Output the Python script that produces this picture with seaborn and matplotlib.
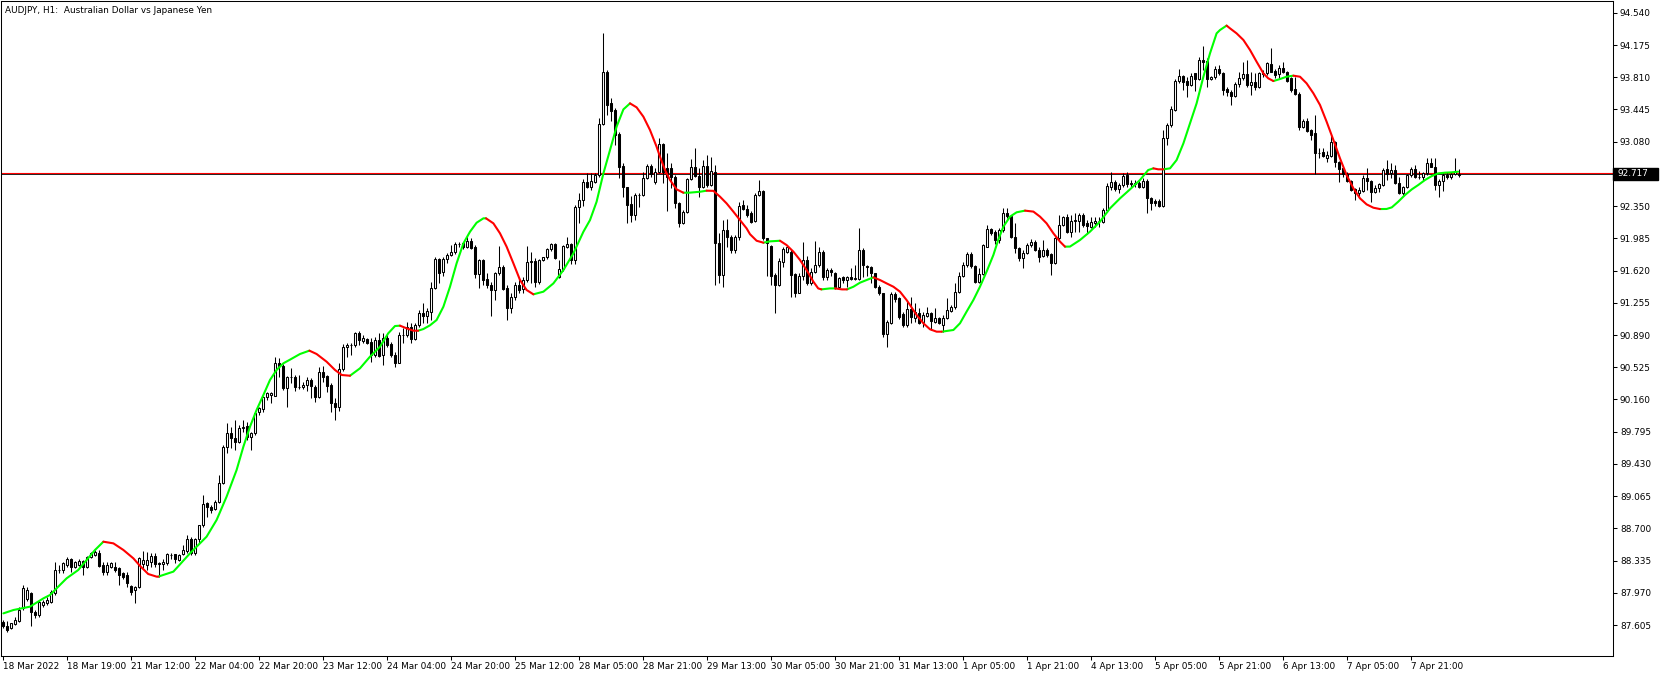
import numpy as np
import pandas as pd
import seaborn as sns
import matplotlib
matplotlib.use("Agg")
import matplotlib.pyplot as plt
from matplotlib import transforms
from matplotlib.patches import Rectangle

title = "AUDJPY, H1:  Australian Dollar vs Japanese Yen"
last_price = 92.717

# hourly candles, bar 0 = 18 Mar 2022
opens = [
    87.643, 87.590, 87.567, 87.616, 87.654, 87.800, 87.900, 87.964, 87.756, 87.718,
    87.832, 87.850, 87.869, 87.964, 88.228, 88.228, 88.285, 88.349, 88.266, 88.285,
    88.334, 88.266, 88.372, 88.400, 88.425, 88.285, 88.209, 88.266, 88.266, 88.247,
    88.190, 88.171, 88.047, 88.001, 88.032, 88.300, 88.285, 88.323, 88.387, 88.312,
    88.297, 88.304, 88.400, 88.406, 88.342, 88.406, 88.448, 88.576, 88.417, 88.576,
    88.738, 88.984, 88.946, 88.916, 89.003, 89.218, 89.626, 89.777, 89.720, 89.682,
    89.833, 89.860, 89.739, 89.777, 90.022, 90.049, 90.184, 90.211, 90.200, 90.570,
    90.539, 90.286, 90.411, 90.418, 90.297, 90.297, 90.324, 90.380, 90.305, 90.184,
    90.467, 90.426, 90.324, 90.116, 90.071, 90.501, 90.750, 90.777, 90.777, 90.917,
    90.822, 90.841, 90.815, 90.664, 90.834, 90.664, 90.852, 90.788, 90.664, 90.577,
    90.890, 90.890, 90.985, 90.841, 91.004, 91.136, 91.109, 91.154, 91.419, 91.747,
    91.607, 91.747, 91.796, 91.826, 91.921, 91.928, 91.891, 91.959, 91.891, 91.577,
    91.740, 91.521, 91.456, 91.400, 91.588, 91.656, 91.419, 91.192, 91.317, 91.456,
    91.407, 91.513, 91.721, 91.728, 91.494, 91.740, 91.770, 91.864, 91.921, 91.551,
    91.634, 91.891, 91.921, 91.740, 92.336, 92.419, 92.627, 92.570, 92.627, 92.702,
    93.280, 93.873, 93.514, 93.439, 93.167, 92.804, 92.562, 92.374, 92.249, 92.476,
    92.476, 92.665, 92.804, 92.620, 92.740, 93.053, 92.778, 92.778, 92.676, 92.389,
    92.162, 92.287, 92.653, 92.797, 92.691, 92.570, 92.800, 92.590, 92.740, 91.928,
    91.569, 92.079, 92.004, 91.853, 91.996, 92.362, 92.313, 92.268, 92.180, 92.476,
    92.525, 91.985, 91.898, 91.569, 91.456, 91.721, 91.834, 91.834, 91.581, 91.369,
    91.558, 91.740, 91.480, 91.607, 91.683, 91.834, 91.551, 91.626, 91.596, 91.430,
    91.543, 91.513, 91.543, 91.520, 91.520, 91.853, 91.672, 91.664, 91.588, 91.438,
    91.362, 90.901, 91.030, 91.354, 91.305, 91.128, 91.003, 91.180, 91.079, 91.136,
    91.042, 91.106, 91.136, 91.042, 91.079, 91.004, 91.079, 91.166, 91.204, 91.381,
    91.559, 91.683, 91.808, 91.672, 91.495, 91.581, 91.891, 92.087, 92.061, 91.967,
    92.080, 92.269, 92.238, 92.004, 91.872, 91.759, 91.816, 91.910, 91.948, 91.853,
    91.785, 91.853, 91.808, 91.710, 91.986, 92.137, 92.223, 92.061, 92.185, 92.185,
    92.249, 92.155, 92.117, 92.162, 92.185, 92.174, 92.306, 92.570, 92.627, 92.540,
    92.589, 92.702, 92.601, 92.608, 92.608, 92.570, 92.638, 92.438, 92.412, 92.412,
    92.351, 93.118, 93.269, 93.439, 93.771, 93.824, 93.771, 93.722, 93.854, 93.786,
    94.005, 93.998, 93.786, 93.809, 93.899, 93.862, 93.673, 93.646, 93.600, 93.730,
    93.798, 93.843, 93.722, 93.760, 93.703, 93.854, 93.854, 93.956, 93.881, 93.843,
    93.918, 93.866, 93.798, 93.677, 93.616, 93.250, 93.314, 93.212, 93.175, 92.948,
    92.959, 92.900, 92.922, 93.073, 92.846, 92.778, 92.710, 92.635, 92.544, 92.495,
    92.521, 92.665, 92.635, 92.514, 92.559, 92.589, 92.767, 92.721, 92.759, 92.615,
    92.495, 92.563, 92.702, 92.767, 92.676, 92.676, 92.721, 92.834, 92.797, 92.589,
    92.638, 92.702, 92.676, 92.714, 92.705,
]
highs = [
    87.660, 87.650, 87.630, 87.692, 87.805, 88.058, 88.040, 87.975, 87.775, 87.888,
    87.888, 87.926, 88.001, 88.322, 88.285, 88.322, 88.372, 88.360, 88.330, 88.350,
    88.345, 88.390, 88.430, 88.455, 88.455, 88.322, 88.322, 88.322, 88.322, 88.260,
    88.200, 88.209, 88.060, 88.045, 88.370, 88.440, 88.430, 88.417, 88.417, 88.320,
    88.349, 88.420, 88.425, 88.410, 88.410, 88.512, 88.625, 88.599, 88.590, 88.740,
    89.078, 89.003, 88.965, 89.022, 89.305, 89.645, 89.898, 89.845, 89.928, 89.871,
    89.928, 89.909, 89.796, 90.022, 90.079, 90.200, 90.249, 90.249, 90.645, 90.626,
    90.560, 90.426, 90.513, 90.437, 90.437, 90.362, 90.411, 90.399, 90.324, 90.531,
    90.543, 90.437, 90.343, 90.173, 90.569, 90.788, 90.796, 90.796, 90.928, 90.936,
    90.890, 90.860, 90.852, 90.864, 90.909, 90.909, 90.890, 90.815, 90.701, 90.928,
    90.966, 91.041, 91.022, 91.022, 91.173, 91.249, 91.192, 91.494, 91.777, 91.759,
    91.777, 91.815, 91.909, 91.947, 91.947, 91.936, 92.011, 91.985, 91.909, 91.747,
    91.747, 91.596, 91.494, 91.607, 91.898, 91.683, 91.456, 91.362, 91.494, 91.532,
    91.551, 91.898, 91.834, 91.759, 91.747, 91.777, 91.879, 91.928, 91.936, 91.740,
    91.909, 91.996, 91.936, 92.363, 92.502, 92.653, 92.729, 92.721, 92.721, 93.344,
    94.307, 93.892, 93.571, 93.457, 93.193, 92.834, 92.570, 92.464, 92.502, 92.495,
    92.740, 92.827, 92.827, 92.778, 93.118, 93.068, 92.948, 92.834, 92.702, 92.400,
    92.306, 92.665, 92.880, 93.004, 92.778, 92.872, 92.929, 92.910, 92.815, 92.041,
    92.192, 92.200, 92.023, 92.023, 92.400, 92.419, 92.362, 92.290, 92.495, 92.646,
    92.532, 91.990, 91.909, 91.588, 91.759, 91.883, 91.909, 91.853, 91.588, 91.588,
    91.947, 91.785, 91.645, 91.958, 91.890, 91.853, 91.645, 91.645, 91.607, 91.550,
    91.558, 91.558, 91.645, 91.683, 92.098, 91.872, 91.683, 91.672, 91.596, 91.456,
    91.369, 91.060, 91.381, 91.381, 91.324, 91.154, 91.286, 91.317, 91.249, 91.193,
    91.155, 91.204, 91.155, 91.193, 91.098, 91.117, 91.306, 91.230, 91.483, 91.608,
    91.721, 91.834, 91.834, 91.683, 91.646, 91.921, 92.137, 92.099, 92.080, 92.099,
    92.325, 92.325, 92.250, 92.155, 91.891, 91.853, 91.929, 91.975, 91.967, 91.891,
    91.967, 91.872, 91.823, 92.004, 92.250, 92.238, 92.261, 92.249, 92.276, 92.276,
    92.268, 92.193, 92.230, 92.223, 92.230, 92.325, 92.608, 92.740, 92.646, 92.608,
    92.721, 92.740, 92.646, 92.646, 92.638, 92.665, 92.653, 92.457, 92.427, 92.427,
    93.212, 93.288, 93.484, 93.786, 93.899, 93.835, 93.816, 93.862, 93.862, 94.035,
    94.164, 94.024, 93.824, 93.937, 93.949, 93.873, 93.696, 93.665, 93.760, 93.873,
    93.986, 94.005, 93.873, 93.854, 93.873, 93.892, 93.986, 94.137, 93.903, 93.949,
    93.979, 93.881, 93.816, 93.816, 93.647, 93.337, 93.344, 93.224, 93.382, 93.012,
    93.005, 92.974, 93.156, 93.088, 92.861, 92.797, 92.740, 92.646, 92.559, 92.570,
    92.703, 92.778, 92.646, 92.589, 92.608, 92.778, 92.872, 92.834, 92.816, 92.676,
    92.578, 92.714, 92.789, 92.816, 92.751, 92.740, 92.891, 92.891, 92.891, 92.653,
    92.740, 92.740, 92.740, 92.891, 92.767,
]
lows = [
    87.570, 87.529, 87.560, 87.610, 87.640, 87.775, 87.880, 87.594, 87.681, 87.699,
    87.810, 87.832, 87.850, 87.945, 88.190, 88.190, 88.266, 88.209, 88.250, 88.270,
    88.171, 88.250, 88.360, 88.390, 88.266, 88.171, 88.171, 88.250, 88.209, 88.058,
    88.130, 88.039, 87.945, 87.850, 88.020, 88.250, 88.230, 88.266, 88.266, 88.153,
    88.229, 88.290, 88.349, 88.312, 88.330, 88.400, 88.417, 88.398, 88.400, 88.531,
    88.719, 88.833, 88.871, 88.908, 88.984, 89.203, 89.558, 89.607, 89.588, 89.663,
    89.796, 89.701, 89.588, 89.758, 89.984, 90.022, 90.154, 90.117, 90.200, 90.419,
    90.270, 90.079, 90.343, 90.260, 90.275, 90.275, 90.260, 90.173, 90.135, 90.173,
    90.362, 90.248, 90.022, 89.927, 90.033, 90.486, 90.645, 90.664, 90.758, 90.777,
    90.796, 90.790, 90.588, 90.645, 90.637, 90.550, 90.758, 90.645, 90.524, 90.569,
    90.803, 90.871, 90.803, 90.834, 90.985, 91.022, 91.022, 91.060, 91.407, 91.483,
    91.558, 91.702, 91.785, 91.808, 91.891, 91.860, 91.872, 91.860, 91.532, 91.419,
    91.456, 91.419, 91.105, 91.287, 91.570, 91.400, 91.060, 91.135, 91.287, 91.362,
    91.370, 91.494, 91.475, 91.437, 91.468, 91.732, 91.747, 91.845, 91.747, 91.532,
    91.619, 91.872, 91.694, 91.694, 92.162, 92.351, 92.552, 92.532, 92.608, 92.683,
    93.268, 93.382, 93.318, 93.042, 92.665, 92.457, 92.155, 92.174, 92.192, 92.343,
    92.464, 92.653, 92.683, 92.600, 92.721, 92.608, 92.298, 92.551, 92.325, 92.110,
    92.147, 92.268, 92.646, 92.683, 92.457, 92.551, 92.570, 92.580, 91.456, 91.475,
    91.437, 91.890, 91.815, 91.815, 91.966, 92.306, 92.230, 92.160, 92.170, 92.464,
    91.966, 91.558, 91.456, 91.135, 91.445, 91.664, 91.815, 91.317, 91.317, 91.362,
    91.510, 91.456, 91.456, 91.588, 91.664, 91.513, 91.513, 91.558, 91.407, 91.420,
    91.475, 91.438, 91.513, 91.513, 91.513, 91.551, 91.558, 91.475, 91.418, 91.343,
    90.871, 90.758, 91.019, 91.267, 91.067, 90.984, 90.984, 91.030, 91.042, 91.015,
    90.985, 91.098, 90.947, 91.023, 91.015, 90.928, 91.068, 91.155, 91.181, 91.362,
    91.544, 91.664, 91.646, 91.476, 91.476, 91.570, 91.883, 92.023, 91.921, 91.929,
    92.061, 92.212, 91.986, 91.816, 91.733, 91.646, 91.808, 91.891, 91.846, 91.721,
    91.770, 91.778, 91.570, 91.695, 91.970, 92.125, 92.042, 92.004, 92.061, 92.061,
    92.117, 92.034, 92.098, 92.110, 92.117, 92.155, 92.287, 92.533, 92.525, 92.502,
    92.570, 92.570, 92.570, 92.570, 92.552, 92.552, 92.268, 92.306, 92.351, 92.336,
    92.336, 93.042, 93.250, 93.431, 93.748, 93.665, 93.590, 93.711, 93.658, 93.779,
    93.892, 93.703, 93.779, 93.786, 93.835, 93.609, 93.597, 93.496, 93.590, 93.703,
    93.779, 93.703, 93.609, 93.665, 93.692, 93.816, 93.835, 93.866, 93.798, 93.798,
    93.854, 93.760, 93.647, 93.609, 93.212, 93.231, 93.186, 93.099, 92.710, 92.899,
    92.910, 92.854, 92.910, 92.797, 92.627, 92.684, 92.627, 92.521, 92.419, 92.438,
    92.506, 92.533, 92.400, 92.495, 92.514, 92.582, 92.646, 92.665, 92.600, 92.487,
    92.476, 92.551, 92.684, 92.665, 92.653, 92.646, 92.702, 92.789, 92.532, 92.457,
    92.525, 92.653, 92.653, 92.702, 92.684,
]
closes = [
    87.590, 87.550, 87.624, 87.662, 87.775, 88.020, 88.000, 87.756, 87.718, 87.869,
    87.869, 87.888, 87.983, 88.228, 88.232, 88.304, 88.349, 88.266, 88.322, 88.334,
    88.266, 88.379, 88.417, 88.436, 88.273, 88.209, 88.285, 88.304, 88.228, 88.171,
    88.153, 88.077, 87.983, 88.032, 88.360, 88.340, 88.340, 88.387, 88.297, 88.297,
    88.323, 88.406, 88.398, 88.353, 88.398, 88.455, 88.576, 88.417, 88.576, 88.738,
    88.976, 88.938, 88.908, 89.003, 89.218, 89.618, 89.777, 89.720, 89.682, 89.833,
    89.845, 89.739, 89.777, 90.011, 90.060, 90.184, 90.230, 90.230, 90.570, 90.539,
    90.286, 90.411, 90.415, 90.297, 90.300, 90.324, 90.380, 90.312, 90.184, 90.467,
    90.418, 90.316, 90.116, 90.071, 90.501, 90.758, 90.777, 90.780, 90.917, 90.834,
    90.852, 90.803, 90.664, 90.834, 90.652, 90.852, 90.777, 90.664, 90.577, 90.890,
    90.895, 90.985, 90.841, 91.004, 91.136, 91.109, 91.162, 91.419, 91.747, 91.588,
    91.747, 91.796, 91.826, 91.921, 91.925, 91.891, 91.959, 91.879, 91.577, 91.740,
    91.513, 91.456, 91.400, 91.588, 91.656, 91.407, 91.192, 91.317, 91.456, 91.400,
    91.513, 91.721, 91.730, 91.494, 91.740, 91.770, 91.864, 91.921, 91.759, 91.634,
    91.898, 91.921, 91.740, 92.336, 92.419, 92.627, 92.563, 92.638, 92.702, 93.280,
    93.873, 93.495, 93.431, 93.155, 92.797, 92.562, 92.362, 92.249, 92.476, 92.480,
    92.665, 92.804, 92.714, 92.740, 93.053, 92.740, 92.683, 92.676, 92.389, 92.162,
    92.287, 92.653, 92.797, 92.691, 92.570, 92.804, 92.590, 92.750, 91.928, 91.569,
    92.079, 92.004, 91.853, 91.996, 92.351, 92.313, 92.249, 92.174, 92.476, 92.525,
    91.985, 91.928, 91.558, 91.456, 91.732, 91.860, 91.883, 91.569, 91.369, 91.558,
    91.740, 91.480, 91.607, 91.683, 91.834, 91.543, 91.626, 91.600, 91.438, 91.540,
    91.513, 91.543, 91.520, 91.532, 91.853, 91.683, 91.656, 91.588, 91.438, 91.362,
    90.901, 91.041, 91.354, 91.294, 91.098, 91.003, 91.180, 91.098, 91.155, 91.030,
    91.117, 91.143, 91.053, 91.079, 91.030, 91.079, 91.174, 91.211, 91.381, 91.559,
    91.683, 91.808, 91.672, 91.495, 91.581, 91.910, 92.087, 92.050, 91.967, 92.080,
    92.269, 92.238, 92.004, 91.872, 91.759, 91.816, 91.910, 91.948, 91.853, 91.778,
    91.853, 91.797, 91.710, 91.986, 92.137, 92.223, 92.061, 92.185, 92.193, 92.249,
    92.136, 92.125, 92.174, 92.185, 92.178, 92.306, 92.578, 92.627, 92.540, 92.589,
    92.695, 92.601, 92.608, 92.605, 92.570, 92.638, 92.438, 92.381, 92.381, 92.351,
    93.118, 93.269, 93.446, 93.771, 93.824, 93.760, 93.722, 93.824, 93.786, 94.005,
    93.986, 93.786, 93.809, 93.899, 93.854, 93.665, 93.646, 93.600, 93.730, 93.805,
    93.843, 93.722, 93.752, 93.703, 93.854, 93.850, 93.968, 93.873, 93.835, 93.918,
    93.873, 93.767, 93.665, 93.616, 93.250, 93.314, 93.201, 93.156, 92.948, 92.955,
    92.920, 92.929, 93.073, 92.846, 92.771, 92.710, 92.635, 92.533, 92.495, 92.533,
    92.665, 92.635, 92.514, 92.559, 92.597, 92.759, 92.714, 92.759, 92.615, 92.495,
    92.563, 92.702, 92.767, 92.676, 92.680, 92.721, 92.834, 92.797, 92.589, 92.638,
    92.702, 92.676, 92.714, 92.751, 92.717,
]

# smoothed average line, read at these bar positions
ma_x = [
    0.1, 2.6, 6.75, 10.1, 11.75, 13.8, 15.9, 18.8, 20.9, 23, 25.1, 27.6, 30.1, 32.6,
    34.25, 36.3, 38.4, 38.8, 42.6, 46.75, 50.9, 53.4, 55.9, 58.4, 60.1, 61.75, 63.4,
    65.1, 66.75, 68.4, 70.1, 71.75, 74.25, 76.6, 78.4, 80.9, 83, 84.7, 86.75, 89.25,
    91.75, 94.25, 96.3, 98, 99.25, 100.9, 102.6, 103.8, 105.1, 106.75, 108.4, 110.1,
    111.75, 113.4, 115.1, 116.75, 118.4, 120.1, 120.75, 122.6, 124.25, 125.9, 127.6,
    129.25, 130.9, 132.6, 135.1, 137.6, 140.1, 142.6, 145.1, 146.75, 148.4, 150.1,
    151.75, 153.4, 155.1, 156.75, 158.4, 160.1, 161.75, 163.4, 164.25, 165.5, 166.75,
    168.4, 170.1, 171.75, 174.25, 175.9, 177.6, 179.25, 180.9, 182.6, 184.25, 185.9,
    186.75, 188.4, 190.1, 191.75, 194.25, 195.9, 197.6, 199.25, 200.9, 202.6, 203.8,
    204.6, 206.75, 208, 209.75, 211, 212.6, 214.25, 215.9, 217.6, 219.25, 220.9,
    222.6, 224.25, 225.9, 226.75, 228.4, 230.1, 231.75, 233.4, 234.7, 237.6, 239.25,
    240.9, 242.6, 244.25, 245.9, 247.6, 248.8, 250.1, 251.75, 253.4, 255.5, 257.6,
    259.25, 260.9, 262.6, 264.25, 265.5, 266.75, 269.25, 271.75, 274.25, 276.75,
    279.25, 281.75, 284.25, 286.3, 287.6, 288.8, 290.1, 291.75, 293.4, 295.1, 296.75,
    298.4, 300.1, 301.75, 303.4, 304.25, 305.9, 306.75, 308.4, 310.1, 311.75, 313.4,
    315.1, 316.3, 317.6, 319.25, 320.9, 322.6, 324.25, 325.9, 327.6, 329.25, 330.9,
    332.6, 334.25, 335.9, 337.6, 339.25, 340.9, 342.6, 344.25, 345.9, 347.2, 348.8,
    350.5, 352.2, 353.8, 355.5, 357.2, 358.8, 360.5, 362.2, 363.8,
]
ma_y = [
    87.737, 87.775, 87.813, 87.907, 87.945, 88.039, 88.134, 88.228, 88.341, 88.455,
    88.549, 88.530, 88.455, 88.360, 88.275, 88.183, 88.153, 88.153, 88.210, 88.417,
    88.606, 88.795, 89.059, 89.361, 89.626, 89.852, 90.041, 90.211, 90.381, 90.494,
    90.570, 90.611, 90.675, 90.713, 90.675, 90.588, 90.494, 90.437, 90.429, 90.513,
    90.645, 90.758, 90.909, 90.992, 90.996, 90.966, 90.939, 90.939, 90.958, 91.000,
    91.060, 91.211, 91.437, 91.702, 91.928, 92.060, 92.162, 92.212, 92.212, 92.155,
    92.042, 91.891, 91.702, 91.513, 91.400, 91.351, 91.381, 91.475, 91.626, 91.815,
    92.060, 92.192, 92.400, 92.721, 92.985, 93.250, 93.446, 93.514, 93.469, 93.363,
    93.212, 93.023, 92.910, 92.759, 92.646, 92.540, 92.502, 92.503, 92.513, 92.525,
    92.523, 92.457, 92.381, 92.287, 92.192, 92.098, 92.032, 91.958, 91.936, 91.951,
    91.958, 91.909, 91.834, 91.740, 91.626, 91.494, 91.418, 91.407, 91.418, 91.418,
    91.407, 91.407, 91.437, 91.483, 91.513, 91.543, 91.513, 91.475, 91.437, 91.381,
    91.286, 91.230, 91.117, 91.023, 90.955, 90.928, 90.928, 90.947, 91.023, 91.155,
    91.287, 91.438, 91.608, 91.797, 91.967, 92.118, 92.231, 92.280, 92.299, 92.288,
    92.231, 92.155, 92.042, 91.948, 91.891, 91.892, 91.966, 92.061, 92.174, 92.325,
    92.438, 92.540, 92.646, 92.759, 92.778, 92.767, 92.767, 92.778, 92.872, 93.061,
    93.288, 93.514, 93.816, 94.081, 94.307, 94.345, 94.395, 94.364, 94.307, 94.232,
    94.119, 93.986, 93.854, 93.798, 93.767, 93.790, 93.816, 93.828, 93.816, 93.741,
    93.628, 93.496, 93.307, 93.099, 92.891, 92.702, 92.552, 92.438, 92.370, 92.332,
    92.317, 92.318, 92.336, 92.400, 92.476, 92.540, 92.589, 92.646, 92.691, 92.721,
    92.729, 92.733, 92.740,
]

price_ticks = [94.540, 94.175, 93.810, 93.445, 93.080, 92.350, 91.985, 91.620, 91.255,
               90.890, 90.525, 90.160, 89.795, 89.430, 89.065, 88.700, 88.335, 87.970, 87.605]
time_labels = ["18 Mar 2022", "18 Mar 19:00", "21 Mar 12:00", "22 Mar 04:00", "22 Mar 20:00",
               "23 Mar 12:00", "24 Mar 04:00", "24 Mar 20:00", "25 Mar 12:00", "28 Mar 05:00",
               "28 Mar 21:00", "29 Mar 13:00", "30 Mar 05:00", "30 Mar 21:00", "31 Mar 13:00",
               "1 Apr 05:00", "1 Apr 21:00", "4 Apr 13:00", "5 Apr 05:00", "5 Apr 21:00",
               "6 Apr 13:00", "7 Apr 05:00", "7 Apr 21:00"]
time_ticks = list(range(0, 16 * len(time_labels), 16))

sns.set_style("white")
plt.rcParams["font.family"] = ["DejaVu Sans"]
FS = 6.4
W, H = 1670, 677

fig = plt.figure(figsize=(W / 100, H / 100), dpi=100)
ax = fig.add_axes([1 / W, 21 / H, 1612 / W, 655 / H])
ax.set_facecolor("white")

df = pd.DataFrame({"open": opens, "high": highs, "low": lows, "close": closes})
df["bar"] = np.arange(len(df))
up = df["close"] >= df["open"]

# wicks then bodies
ax.vlines(df["bar"], df["low"], df["high"], color="black", linewidth=0.75, zorder=2)
ax.bar(df["bar"], (df["close"] - df["open"]).abs(), bottom=df[["open", "close"]].min(axis=1),
       width=0.5, color=np.where(up, "white", "black"), edgecolor="black", linewidth=0.75, zorder=3)

# colour the average by direction
trend, prev = [], "up"
for d in np.diff(ma_y):
    if d > 0:
        prev = "up"
    elif d < 0:
        prev = "down"
    trend.append(prev)
rows, run = [], 0
for i, t in enumerate(trend):
    if i > 0 and t != trend[i - 1]:
        run += 1
    rows.append((run, t, ma_x[i], ma_y[i]))
    rows.append((run, t, ma_x[i + 1], ma_y[i + 1]))
seg = pd.DataFrame(rows, columns=["run", "trend", "x", "y"]).drop_duplicates()
sns.lineplot(data=seg, x="x", y="y", hue="trend", units="run", estimator=None, sort=False,
             palette={"up": "#00ff00", "down": "#ff0000"}, linewidth=1.5, legend=False,
             ax=ax, zorder=4, solid_capstyle="round")

# bid / ask lines
ax.axhline(last_price + 0.007, color="#ff0000", linewidth=0.8, zorder=1)
ax.axhline(last_price - 0.004, color="black", linewidth=0.6, zorder=1)

ax.set_xlim(-0.5, 402.5)
ax.set_ylim(87.2541, 94.6737)
ax.set_xlabel("")
ax.set_ylabel("")

ax.set_xticks(time_ticks)
ax.set_xticklabels(time_labels, ha="left", fontsize=FS)
ax.set_yticks(price_ticks)
ax.set_yticklabels([f"{p:.3f}" for p in price_ticks], fontsize=FS)
ax.yaxis.tick_right()
ax.tick_params(axis="x", bottom=True, direction="out", length=3, width=0.75, pad=1, colors="black")
ax.tick_params(axis="y", right=True, left=False, direction="out", length=3, width=0.75, pad=2,
               colors="black")
for s in ax.spines.values():
    s.set_visible(True)
    s.set_color("black")
    s.set_linewidth(0.75)

# current price tag on the scale
tr = transforms.blended_transform_factory(ax.transAxes, ax.transData)
ax.add_patch(Rectangle((1.0, last_price - 0.066), 45 / 1612, 0.132, transform=tr,
                       facecolor="black", edgecolor="black", clip_on=False, zorder=5))
ax.text(1.0 + 5 / 1612, last_price, f"{last_price:.3f}", transform=tr, color="white",
        fontsize=FS, va="center", ha="left", zorder=6, clip_on=False)

ax.text(4 / 1612, 1 - 12 / 655, title, transform=ax.transAxes, fontsize=FS,
        ha="left", va="baseline", color="black")

fig.savefig("out.png", dpi=100)
